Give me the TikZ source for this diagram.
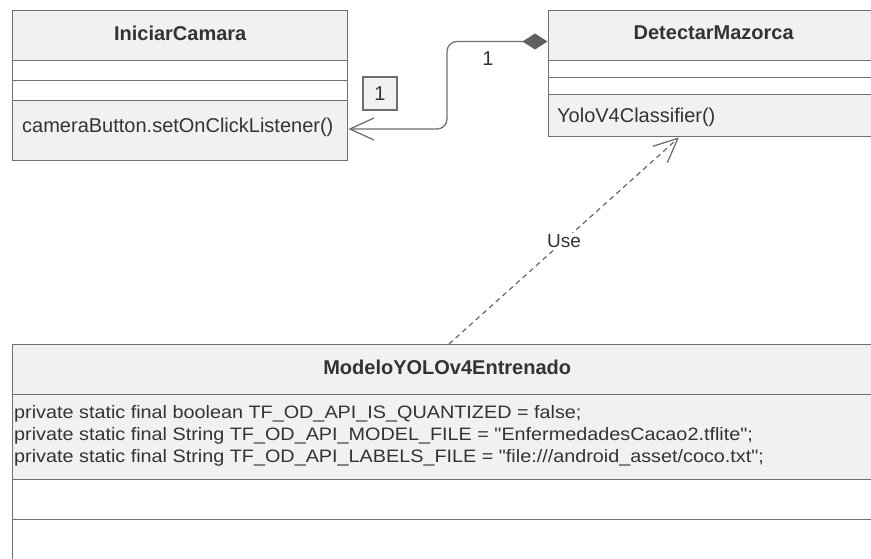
\documentclass[tikz,border=0pt]{standalone}
\usepackage{fontspec}
\setmainfont{Liberation Sans}
\newfontfamily\attrfont[FakeStretch=1.1]{Liberation Sans}
\usetikzlibrary{arrows.meta,calc}
\definecolor{umlline}{HTML}{707070}
\definecolor{umlfill}{HTML}{F1F1F1}
\definecolor{umltext}{HTML}{333333}
\definecolor{umldiamond}{HTML}{606060}
% straight double quote
\newcommand\sq{\symbol{34}}
\begin{document}
\begin{tikzpicture}[x=1pt,y=-1pt,
  font=\fontsize{20pt}{24pt}\selectfont, text=umltext,
  classbox/.style={draw=umlline, line width=1.4pt, fill=white, rectangle,
    inner sep=0pt, anchor=north west},
  comp/.style={fill=umlfill},
  sepline/.style={draw=umlline, line width=1.4pt},
  classname/.style={font=\fontsize{20pt}{24pt}\selectfont\bfseries, inner sep=0pt},
  member/.style={anchor=west, inner sep=0pt, align=left},
  assoc/.style={draw=umlline, line width=1.3pt, rounded corners=10pt},
  dep/.style={draw=umlline, line width=1.3pt, dash pattern=on 5pt off 4pt},
  opentip/.style={-{Straight Barb[length=24pt,width=22pt]}},
  multbox/.style={draw=umlline, line width=1.2pt, fill=umlfill, inner sep=0pt,
    minimum width=34pt, minimum height=33pt},
  plainlabel/.style={inner sep=1pt},
]
\useasboundingbox (0,0) rectangle (871,558);
\clip (0,0) rectangle (871,558);

% class IniciarCamara
\node[classbox, minimum width=335pt, minimum height=150.5pt,
  path picture={
    \coordinate (p) at (path picture bounding box.north west);
    \path[comp] (p) rectangle ($(p)+(340,50.5)$);
    \path[comp] ($(p)+(0,90.5)$) rectangle ($(p)+(340,155)$);
    \draw[sepline] ($(p)+(0,50.5)$) -- ++(340,0);
    \draw[sepline] ($(p)+(0,70.5)$) -- ++(340,0);
    \draw[sepline] ($(p)+(0,90.5)$) -- ++(340,0);
  }] (ic) at (12,9.5) {};
\node[classname] (icname) at ($(ic.north)+(0,24)$) {IniciarCamara};
\node[member] (icop) at ($(ic.north west)+(10,117.5)$) {cameraButton.setOnClickListener()};

% class DetectarMazorca
\node[classbox, minimum width=331pt, minimum height=126.5pt,
  path picture={
    \coordinate (p) at (path picture bounding box.north west);
    \path[comp] (p) rectangle ($(p)+(340,50)$);
    \path[comp] ($(p)+(0,84)$) rectangle ($(p)+(340,130)$);
    \draw[sepline] ($(p)+(0,50)$) -- ++(340,0);
    \draw[sepline] ($(p)+(0,67)$) -- ++(340,0);
    \draw[sepline] ($(p)+(0,84)$) -- ++(340,0);
  }] (dm) at (547.5,9.5) {};
\node[classname] (dmname) at ($(dm.north)+(0,23.5)$) {DetectarMazorca};
\node[member] (dmop) at ($(dm.north west)+(9.5,108)$) {YoloV4Classifier()};

% class ModeloYOLOv4Entrenado
\node[classbox, minimum width=869pt, minimum height=230pt,
  path picture={
    \coordinate (p) at (path picture bounding box.north west);
    \path[comp] (p) rectangle ($(p)+(880,49.5)$);
    \path[comp] ($(p)+(0,49.5)$) rectangle ($(p)+(880,134.5)$);
    \draw[sepline] ($(p)+(0,49.5)$) -- ++(880,0);
    \draw[sepline] ($(p)+(0,134.5)$) -- ++(880,0);
    \draw[sepline] ($(p)+(0,175)$) -- ++(880,0);
  }] (bm) at (12,344) {};
\node[classname] (bmname) at ($(bm.north)+(0,23.5)$) {ModeloYOLOv4Entrenado};
\node[member, font=\attrfont\fontsize{18pt}{22pt}\selectfont] (bmattr) at ($(bm.north west)+(2,92)$)
  {private static final boolean TF\_OD\_API\_IS\_QUANTIZED = false;\\
   private static final String TF\_OD\_API\_MODEL\_FILE = \sq EnfermedadesCacao2.tflite\sq;\\
   private static final String TF\_OD\_API\_LABELS\_FILE = \sq file:///android\_asset/coco.txt\sq;};

% composition DetectarMazorca -> IniciarCamara
\coordinate (dmport) at ($(dm.north west)+(0,32)$);
\coordinate (icport) at ($(ic.north east)+(0,119.5)$);
\coordinate (bend) at (447,0);
\draw[assoc, {Diamond[length=25pt,width=16pt,fill=umldiamond,color=umldiamond]}-{Straight Barb[length=24pt,width=22pt]}]
  (dmport) -- (dmport -| bend) -- (icport -| bend) -- (icport);
\node[plainlabel] (mult) at (488,59) {1};
\node[multbox] (multb) at (380,93.5) {1};

% dependency ModeloYOLOv4Entrenado -> DetectarMazorca
\coordinate (bmport) at ($(bm.north west)+(437,0)$);
\coordinate (dmbottom) at ($(dm.south west)+(131.5,0)$);
\draw[dep, opentip] (bmport) -- (dmbottom);
\node[plainlabel, fill=white, font=\fontsize{19pt}{22pt}\selectfont] (uselbl)
  at ($(bmport)!0.5!(dmbottom)$) {Use};
\end{tikzpicture}
\end{document}
